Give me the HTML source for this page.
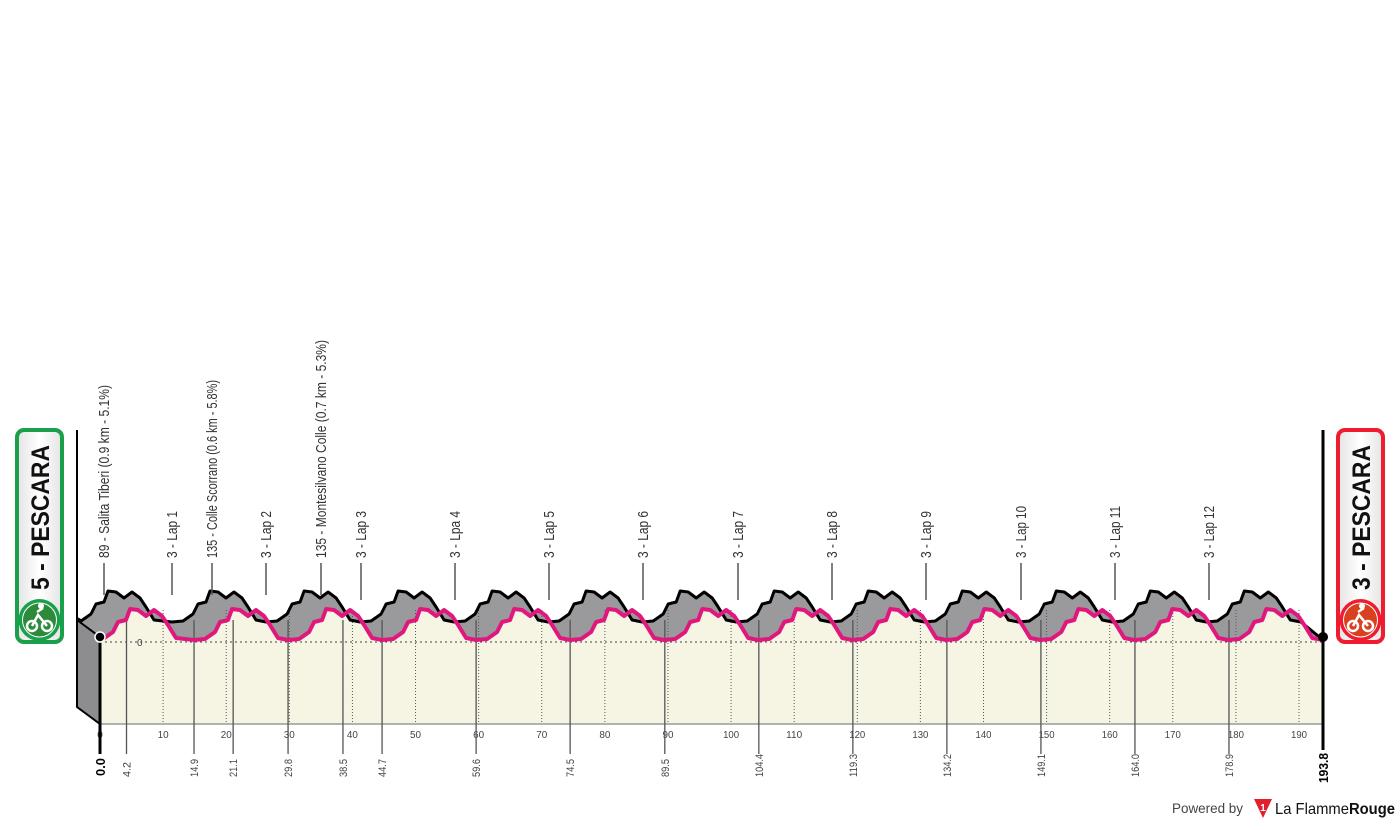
<!DOCTYPE html>
<html><head><meta charset="utf-8"><style>
body{margin:0;background:#fff;width:1400px;height:825px;overflow:hidden;font-family:"Liberation Sans",sans-serif}
</style></head><body>
<svg id="s" width="1400" height="825" xmlns="http://www.w3.org/2000/svg"></svg>
<script>
const S=document.getElementById('s');let h='';
const X=k=>100+k*1223/193.8;
const shape=[[0,0],[11,-1],[21,-8],[26,-18],[34,-20],[38,-31],[46,-30],[54,-24],[62,-30],[70,-24],[76,-15],[84,-2]];
let pk=[[100,637]];
const starts=[-8];for(let i=1;i<=12;i++)starts.push(X(14.9*i)-100);
starts.forEach((s,i)=>{shape.forEach(([dx,dy])=>{const x=100+s+dx;if(x>100)pk.push([x,640+dy]);});});
pk.push([1323,640]);
const gr=pk.map(([x,y])=>[x-22,y-18]).filter(p=>p[0]>=77&&p[0]<=1301);
gr.unshift([77,620]);gr.push([1323,640]);
const P=a=>a.map(p=>p[0].toFixed(1)+','+p[1].toFixed(1)).join(' ');
h+=`<polygon points="${P(pk)} 1323,724 100,724" fill="#f6f5e3"/>`;
h+=`<polygon points="${P(gr)} ${P(pk.slice().reverse())}" fill="#9a9a9c"/>`;
h+=`<polygon points="77,620 100,637 100,724 77,707" fill="#8d8d90" stroke="#000" stroke-width="2"/>`;
for(let k=10;k<=190;k+=10){h+=`<line x1="${X(k)}" y1="610" x2="${X(k)}" y2="724" stroke="#555" stroke-width="1" stroke-dasharray="1,2"/><text x="${X(k)}" y="738" font-size="10" fill="#444" text-anchor="middle" textLength="${k>=100?16:11}" lengthAdjust="spacingAndGlyphs">${k}</text>`;}
h+=`<text x="${X(0)}" y="738" font-size="10" fill="#444" text-anchor="middle">0</text>`;
h+=`<line x1="100" y1="642" x2="1323" y2="642" stroke="#444" stroke-dasharray="2,3"/><text x="137" y="646" font-size="10" fill="#444">0</text>`;
h+=`<line x1="100" y1="724" x2="1323" y2="724" stroke="#999" stroke-width="1.5"/>`;
[4.2,14.9,21.1,29.8,38.5,44.7,59.6,74.5,89.5,104.4,119.3,134.2,149.1,164.0,178.9].forEach(k=>{const x=X(k);
const w=k<10?15:(k>=100?23:18);
h+=`<line x1="${x}" y1="620" x2="${x}" y2="754" stroke="#555" stroke-width="1.3"/><text transform="translate(${x+4},777) rotate(-90)" font-size="11" fill="#444" textLength="${w}" lengthAdjust="spacingAndGlyphs">${k.toFixed(1)}</text>`;});
h+=`<polyline points="${P(gr)}" fill="none" stroke="#000" stroke-width="3" stroke-linejoin="round"/>`;
h+=`<polyline points="${P(pk)}" fill="none" stroke="#e0187e" stroke-width="4" stroke-linejoin="round"/>`;
h+=`<line x1="77" y1="430" x2="77" y2="620" stroke="#000" stroke-width="2"/>`;
h+=`<line x1="100" y1="637" x2="100" y2="754" stroke="#000" stroke-width="3"/>`;
h+=`<line x1="1323" y1="430" x2="1323" y2="750" stroke="#000" stroke-width="3"/>`;
h+=`<circle cx="100" cy="637" r="5" fill="#000" stroke="#fff" stroke-width="1.5"/><circle cx="1323" cy="637" r="5" fill="#000"/>`;
h+=`<text transform="translate(105,776) rotate(-90)" font-size="13" font-weight="bold" fill="#000" textLength="18" lengthAdjust="spacingAndGlyphs">0.0</text>`;
h+=`<text transform="translate(1328,783) rotate(-90)" font-size="13" font-weight="bold" fill="#000" textLength="30" lengthAdjust="spacingAndGlyphs">193.8</text>`;
const L=[[104,"89 - Salita Tiberi (0.9 km - 5.1%)",173],[172,"3 - Lap 1",47],[212,"135 - Colle Scorrano (0.6 km - 5.8%)",178],[266,"3 - Lap 2",47],[321,"135 - Montesilvano Colle (0.7 km - 5.3%)",218],[361,"3 - Lap 3",47],[455,"3 - Lpa 4",47],[549,"3 - Lap 5",47],[643,"3 - Lap 6",47],[738,"3 - Lap 7",47],[832,"3 - Lap 8",47],[926,"3 - Lap 9",47],[1021,"3 - Lap 10",52],[1115,"3 - Lap 11",52],[1209,"3 - Lap 12",52]];
L.forEach(([x,t,w])=>{h+=`<line x1="${x}" y1="563" x2="${x}" y2="${x<330?595:600}" stroke="#555" stroke-width="1.5"/><text transform="translate(${x+5},558) rotate(-90)" font-size="15" fill="#333" textLength="${w}" lengthAdjust="spacingAndGlyphs">${t}</text>`;});
function badge(x,c1,c2,txt){
h+=`<defs><linearGradient id="g${x}" x1="0" x2="1"><stop offset="0" stop-color="#e4e4e4"/><stop offset=".5" stop-color="#fff"/><stop offset="1" stop-color="#e4e4e4"/></linearGradient></defs>`;
h+=`<rect x="${x}" y="430" width="45" height="212" rx="7" fill="url(#g${x})" stroke="${c1}" stroke-width="4"/>`;
h+=`<text transform="translate(${x+32},590) rotate(-90)" font-size="25" font-weight="bold" fill="#111" textLength="145" lengthAdjust="spacingAndGlyphs">${txt}</text>`;
h+=`<circle cx="${x+22.5}" cy="620" r="21" fill="${c1}"/><circle cx="${x+22.5}" cy="620" r="17" fill="${c2}" stroke="#fff" stroke-width="1"/>`;
h+=`<circle cx="${x+15}" cy="626" r="5" fill="none" stroke="#fff" stroke-width="2.5"/><circle cx="${x+30}" cy="626" r="5" fill="none" stroke="#fff" stroke-width="2.5"/><path d="M${x+15} 626 L${x+21} 615 L${x+30} 626 M${x+20} 612 l6 -4" stroke="#fff" stroke-width="2.5" fill="none"/><circle cx="${x+24}" cy="606" r="3" fill="#fff"/>`;}
badge(17,"#1a9f4a","#2c8a3a","5 - PESCARA");
badge(1338,"#ee1c2e","#d8401f","3 - PESCARA");
h+=`<text x="1172" y="813" font-size="14" fill="#444" textLength="71" lengthAdjust="spacingAndGlyphs">Powered by</text>`;
h+=`<polygon points="1254,799 1272,799 1263,818" fill="#e21f2c"/><text x="1263" y="811" font-size="10" font-weight="bold" fill="#fff" text-anchor="middle">1</text>`;
h+=`<text x="1275" y="814" font-size="16" fill="#111" textLength="120" lengthAdjust="spacingAndGlyphs">La Flamme<tspan font-weight="bold">Rouge</tspan></text>`;
S.innerHTML=h;
</script>
</body></html>
